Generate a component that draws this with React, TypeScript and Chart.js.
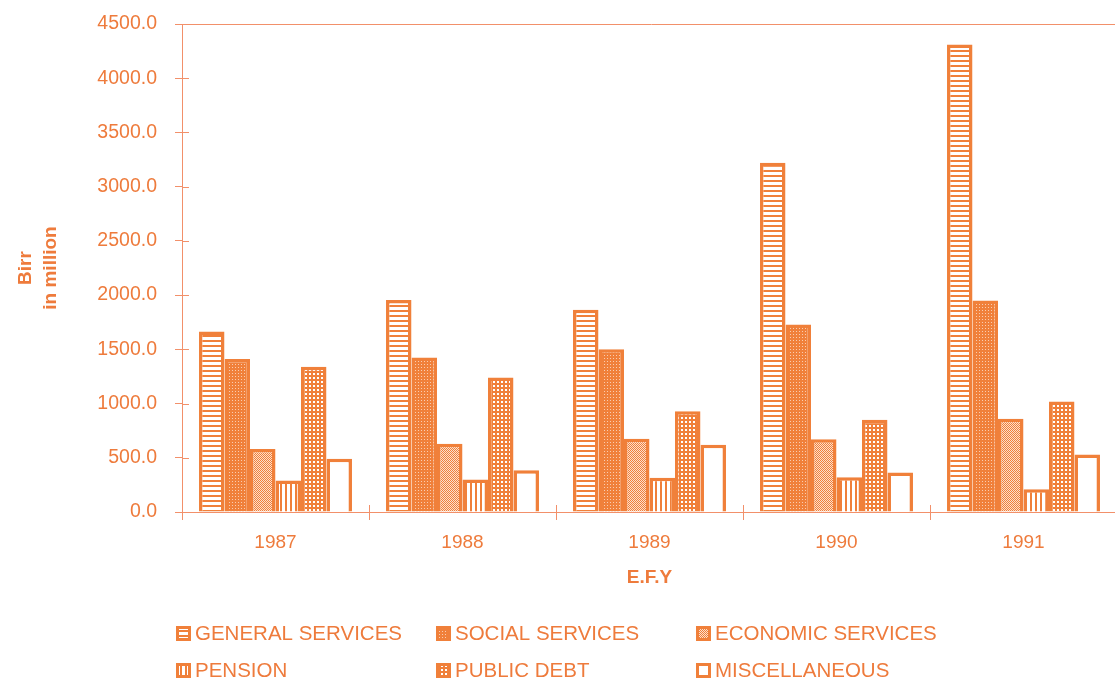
import { useEffect, useRef } from "react";
import { Chart, registerables } from "chart.js";

Chart.register(...registerables);

const years = ["1987", "1988", "1989", "1990", "1991"];
const generalServices = [1665, 1955, 1865, 3220, 4310];
const socialServices = [1410, 1425, 1500, 1730, 1950];
const economicServices = [580, 630, 675, 670, 860];
const pension = [290, 300, 315, 320, 210];
const publicDebt = [1340, 1240, 930, 850, 1020];
const miscellaneous = [490, 385, 620, 365, 530];

const seriesLabels = [
  "GENERAL SERVICES",
  "SOCIAL SERVICES",
  "ECONOMIC SERVICES",
  "PENSION",
  "PUBLIC DEBT",
  "MISCELLANEOUS",
];
const seriesPatterns = ["hlines", "dense", "checker", "vlines", "grid", "blank"];

const yMin = 0;
const yMax = 4500;
const yStep = 500;
const xTitle = "E.F.Y";
const yTitle = ["Birr", "in million"];

const ORANGE = "#F0803A";
const TEXT = "#EE7B3C";
const AXIS = "#F2906A";
const FONT = "'Liberation Sans', Arial, sans-serif";

function makePattern(kind: string): CanvasPattern | string {
  if (kind === "blank") return "#ffffff";
  const c = document.createElement("canvas");
  const ctx = c.getContext("2d")!;
  if (kind === "hlines") {
    c.width = 5; c.height = 5;
    ctx.fillStyle = "#fff"; ctx.fillRect(0, 0, 5, 5);
    ctx.fillStyle = ORANGE; ctx.fillRect(0, 0, 5, 2);
  } else if (kind === "vlines") {
    c.width = 5; c.height = 5;
    ctx.fillStyle = "#fff"; ctx.fillRect(0, 0, 5, 5);
    ctx.fillStyle = ORANGE; ctx.fillRect(0, 0, 2, 5);
  } else if (kind === "dense") {
    c.width = 3; c.height = 3;
    ctx.fillStyle = ORANGE; ctx.fillRect(0, 0, 3, 3);
    ctx.fillStyle = "rgba(255,255,255,0.6)"; ctx.fillRect(1, 1, 1, 1);
  } else if (kind === "checker") {
    c.width = 2; c.height = 2;
    ctx.fillStyle = ORANGE; ctx.fillRect(0, 0, 2, 2);
    ctx.fillStyle = "rgba(255,255,255,0.75)"; ctx.fillRect(1, 0, 1, 1); ctx.fillRect(0, 1, 1, 1);
  } else if (kind === "grid") {
    c.width = 4; c.height = 4;
    ctx.fillStyle = ORANGE; ctx.fillRect(0, 0, 4, 4);
    ctx.fillStyle = "#fff"; ctx.fillRect(1, 1, 2, 2);
  }
  return ctx.createPattern(c, "repeat")!;
}

export default function App() {
  const ref = useRef<HTMLCanvasElement>(null);

  useEffect(() => {
    const canvas = ref.current!;
    const fills = seriesPatterns.map(makePattern);
    const seriesData = [generalServices, socialServices, economicServices, pension, publicDebt, miscellaneous];

    const decor = {
      id: "decor",
      afterDraw(chart: any) {
        const ctx = chart.ctx as CanvasRenderingContext2D;
        const { left, right, top, bottom } = chart.chartArea;
        const xs = chart.scales.x;
        const ys = chart.scales.y;
        ctx.save();
        ctx.strokeStyle = AXIS;
        ctx.lineWidth = 1;
        ctx.beginPath();
        ctx.moveTo(left, Math.round(top) + 0.5);
        ctx.lineTo(right + 10, Math.round(top) + 0.5);
        ctx.stroke();
        for (let v = yMin; v <= yMax; v += yStep) {
          const y = Math.round(ys.getPixelForValue(v)) + 0.5;
          ctx.beginPath();
          ctx.moveTo(left, y);
          ctx.lineTo(left + 7, y);
          ctx.stroke();
        }
        const half = (xs.getPixelForValue(1) - xs.getPixelForValue(0)) / 2;
        for (let i = 0; i <= years.length; i++) {
          const x = Math.round(xs.getPixelForValue(i) - half) + 0.5;
          ctx.beginPath();
          ctx.moveTo(x, bottom);
          ctx.lineTo(x, bottom - 7);
          ctx.stroke();
        }
        const colX = [176, 436, 696];
        const rowY = [633, 670];
        ctx.font = `20.5px ${FONT}`;
        ctx.textBaseline = "middle";
        ctx.textAlign = "left";
        seriesLabels.forEach((label, i) => {
          const bx = colX[i % 3];
          const cy = rowY[Math.floor(i / 3)];
          const by = cy - 7;
          ctx.fillStyle = fills[i] as any;
          ctx.fillRect(bx, by, 15, 15);
          ctx.strokeStyle = ORANGE;
          ctx.lineWidth = 3;
          ctx.strokeRect(bx + 1.5, by + 1.5, 12, 12);
          ctx.fillStyle = TEXT;
          ctx.fillText(label, bx + 19, cy + 1);
        });
        ctx.restore();
      },
    };

    const chart = new Chart(canvas, {
      type: "bar",
      data: {
        labels: years,
        datasets: seriesLabels.map((label, i) => ({
          label,
          data: seriesData[i],
          backgroundColor: fills[i] as any,
          borderColor: ORANGE,
          borderWidth: 3.5,
          barPercentage: 1,
          categoryPercentage: 0.818,
        })),
      },
      options: {
        animation: false,
        responsive: false,
        maintainAspectRatio: false,
        layout: { padding: { top: 24, right: 3, bottom: 0, left: 0 } },
        plugins: { legend: { display: false }, tooltip: { enabled: false } },
        scales: {
          x: {
            grid: { offset: true, drawOnChartArea: false, color: AXIS, tickLength: 8 },
            border: { color: AXIS, width: 1 },
            ticks: { color: TEXT, font: { family: FONT, size: 19 }, padding: 11 },
            title: {
              display: true,
              text: xTitle,
              color: TEXT,
              font: { family: FONT, size: 19, weight: "bold", lineHeight: 1.2 },
              padding: { top: 0, bottom: 93.6 },
            },
            afterFit: (s: any) => { s.height = 171; s.paddingLeft = 0; s.paddingRight = 0; },
          },
          y: {
            min: yMin,
            max: yMax,
            grid: { drawOnChartArea: false, color: AXIS, tickLength: 7 },
            border: { color: AXIS, width: 1 },
            ticks: {
              stepSize: yStep,
              color: TEXT,
              font: { family: FONT, size: 19.5 },
              padding: 18,
              callback: (v: any) => Number(v).toFixed(1),
            },
            title: {
              display: true,
              text: yTitle,
              color: TEXT,
              font: { family: FONT, size: 19, weight: "bold", lineHeight: 1.3 },
              padding: { top: 13.6, bottom: 0 },
            },
            afterFit: (s: any) => { s.width = 182; s.paddingTop = 0; s.paddingBottom = 0; },
          },
        },
      },
      plugins: [decor],
    });
    return () => chart.destroy();
  }, []);

  return (
    <div style={{ position: "absolute", left: 0, top: 0, width: 1115, height: 683, overflow: "hidden", background: "#fff" }}>
      <canvas ref={ref} width={1120} height={683} />
    </div>
  );
}
